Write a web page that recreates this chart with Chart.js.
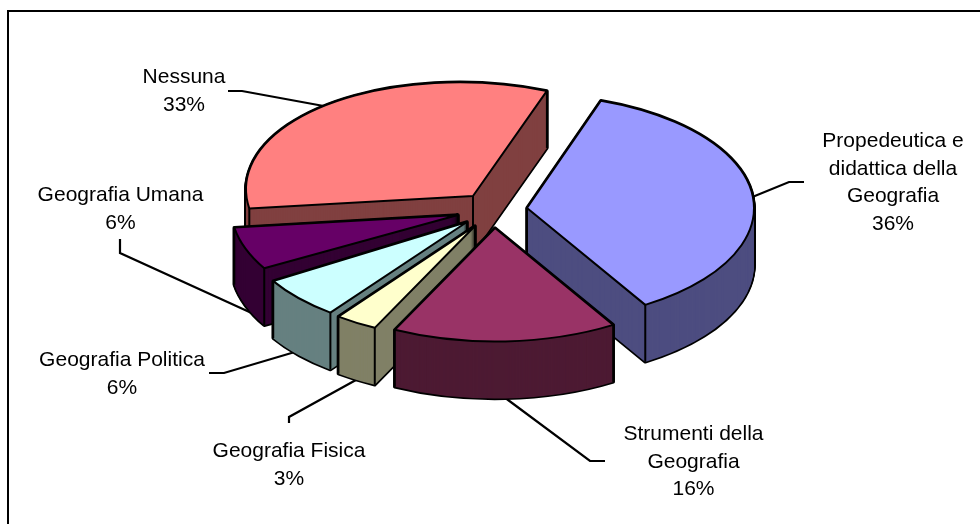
<!DOCTYPE html>
<html lang="it">
<head>
    <meta charset="UTF-8">
    <title>Geografia</title>
    <script src="https://cdn.jsdelivr.net/npm/chart.js@4/dist/chart.umd.min.js"></script>
    <style>
        html, body { margin: 0; padding: 0; background: #fff; }
        #wrap { position: relative; width: 980px; height: 524px; overflow: hidden; }
        #frame { position: absolute; left: 7px; top: 10px; right: 0; bottom: 0; border-left: 2px solid #000; border-top: 2px solid #000; }
        canvas { position: absolute; left: 0; top: 0; }
    </style>
</head>
<body>
<div id="wrap">
    <div id="frame"></div>
    <canvas id="pie" width="980" height="524"></canvas>
</div>
<script>
    const categories = [
        ['Propedeutica e', 'didattica della', 'Geografia'],
        ['Strumenti della', 'Geografia'],
        ['Geografia Fisica'],
        ['Geografia Politica'],
        ['Geografia Umana'],
        ['Nessuna']
    ];
    const percentages = [36, 16, 3, 6, 6, 33];
    const topColors = ['#9999FF', '#993366', '#FFFFCC', '#CCFFFF', '#660066', '#FF8080'];
    const sideColors = ['#4D4D80', '#4D1A33', '#808066', '#668080', '#330033', '#804040'];

    // where each exploded slice has its tip on the page
    const sliceTips = [[527, 208], [495, 228], [475, 226], [467, 222], [458, 215], [473, 196]];
    // small lean of the far left slices, the original has some perspective
    const sliceTilt = [0, 0, 0, 0, 0.03, 0.03];
    // back to front
    const paintOrder = [5, 0, 4, 3, 2, 1];
    const squash = 0.5;
    const depth = 57;

    const labelSpots = [
        { x: 893, y: 147 }, { x: 693.5, y: 440 }, { x: 289, y: 457 },
        { x: 122, y: 366 }, { x: 120.5, y: 201 }, { x: 184, y: 83 }
    ];
    // the last point of each leader ends under its slice
    const leaders = [
        [[804, 182], [789, 182], [745, 200]],
        [[605, 461], [590, 461], [500, 394]],
        [[289, 423], [289, 417], [365, 375]],
        [[209, 373], [224, 373], [305, 349]],
        [[120, 239], [120, 253], [256, 315]],
        [[228, 91], [242, 91], [340, 109]]
    ];

    function outline(ctx, arc, i, dy) {
        const tip = sliceTips[i];
        ctx.save();
        ctx.transform(1, sliceTilt[i], 0, squash, tip[0], tip[1] + dy);
        ctx.beginPath();
        ctx.moveTo(0, 0);
        ctx.arc(0, 0, arc.outerRadius, arc.startAngle, arc.endAngle);
        ctx.closePath();
        ctx.restore();
    }

    function drawArcAt(ctx, arc, i, dy, color) {
        const tip = sliceTips[i];
        const saved = arc.options;
        arc.options = Object.create(saved);
        arc.options.backgroundColor = color;
        arc.options.borderWidth = 0;
        ctx.save();
        ctx.transform(1, sliceTilt[i], 0, squash, tip[0], tip[1] + dy);
        ctx.translate(-arc.x, -arc.y);
        arc.draw(ctx);
        ctx.restore();
        arc.options = saved;
    }

    const pie3d = {
        id: 'pie3d',
        beforeDatasetsDraw(chart) {
            const ctx = chart.ctx;
            const arcs = chart.getDatasetMeta(0).data;
            ctx.save();
            ctx.strokeStyle = '#000';
            ctx.lineWidth = 2.2;
            leaders.forEach(pts => {
                ctx.beginPath();
                pts.forEach((p, n) => n ? ctx.lineTo(p[0], p[1]) : ctx.moveTo(p[0], p[1]));
                ctx.stroke();
            });
            ctx.lineJoin = 'round';
            paintOrder.forEach(i => {
                const arc = arcs[i];
                const tip = sliceTips[i];
                // black silhouette of the wall, then the wall fill on top
                ctx.lineWidth = 3.4;
                for (let d = depth; d >= 0; d--) {
                    outline(ctx, arc, i, d);
                    ctx.stroke();
                }
                for (let d = depth; d >= 0; d--) {
                    drawArcAt(ctx, arc, i, d, sideColors[i]);
                }
                // upright edges at the corners
                ctx.lineWidth = 2;
                [arc.startAngle, arc.endAngle].forEach(a => {
                    const rx = Math.cos(a) * arc.outerRadius;
                    const cx = tip[0] + rx;
                    const cy = tip[1] + rx * sliceTilt[i] + Math.sin(a) * arc.outerRadius * squash;
                    ctx.beginPath();
                    ctx.moveTo(cx, cy);
                    ctx.lineTo(cx, cy + depth);
                    ctx.stroke();
                });
                ctx.beginPath();
                ctx.moveTo(tip[0], tip[1]);
                ctx.lineTo(tip[0], tip[1] + depth);
                ctx.stroke();
                // top face
                drawArcAt(ctx, arc, i, 0, topColors[i]);
                outline(ctx, arc, i, 0);
                ctx.lineWidth = 2;
                ctx.stroke();
            });
            ctx.restore();
            return false;
        },
        afterDraw(chart) {
            const ctx = chart.ctx;
            ctx.save();
            ctx.fillStyle = '#000';
            ctx.font = '21px "Liberation Sans"';
            ctx.textAlign = 'center';
            ctx.textBaseline = 'alphabetic';
            categories.forEach((lines, i) => {
                lines.concat(percentages[i] + '%').forEach((txt, n) => {
                    ctx.fillText(txt, labelSpots[i].x, labelSpots[i].y + n * 27.6);
                });
            });
            ctx.restore();
        }
    };

    new Chart('pie', {
        type: 'pie',
        data: {
            labels: categories,
            datasets: [{
                data: percentages,
                backgroundColor: topColors,
                borderWidth: 0,
                radius: 227,
                rotation: 19
            }]
        },
        options: {
            responsive: false,
            animation: false,
            events: [],
            plugins: { legend: { display: false }, tooltip: { enabled: false } }
        },
        plugins: [pie3d]
    });
</script>
</body>
</html>
